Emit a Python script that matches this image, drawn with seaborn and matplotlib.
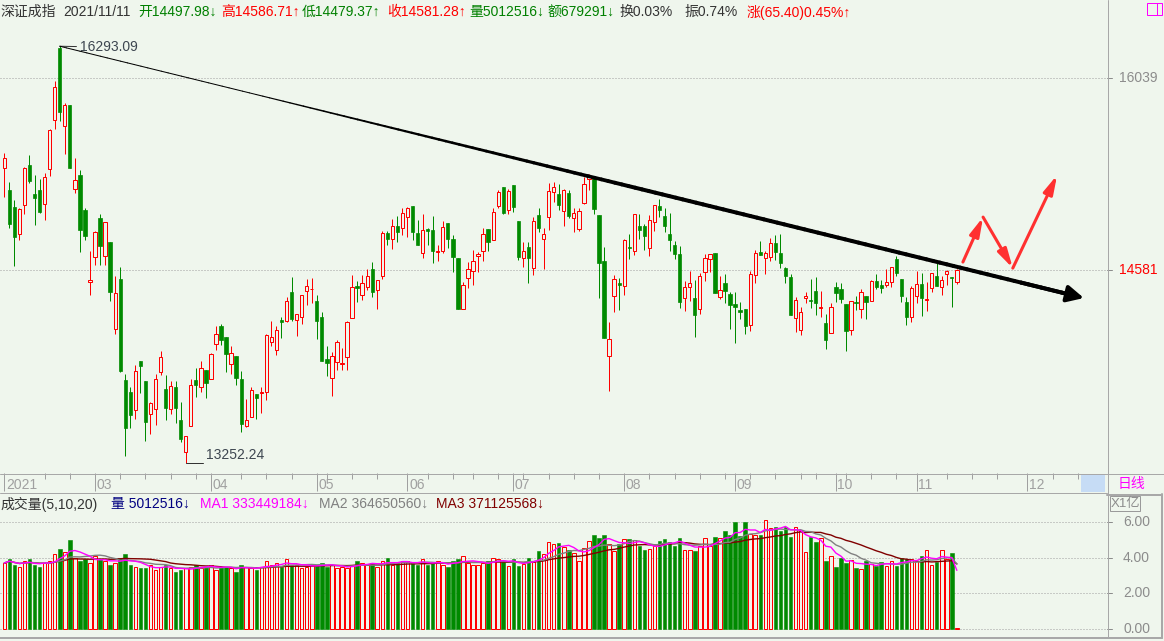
import numpy as np
import pandas as pd
import matplotlib
matplotlib.use('Agg')
import matplotlib.pyplot as plt
import matplotlib.transforms as mtransforms
from matplotlib.patches import Rectangle
from matplotlib.lines import Line2D
from matplotlib.collections import LineCollection
import seaborn as sns

sns.set_theme(style='white')
plt.rcParams['font.family'] = ['Liberation Sans', 'Noto Sans CJK SC', 'DejaVu Sans']

# ---------------- data ----------------
opens = [15335, 15171, 15041, 14846, 15061, 15358, 15141, 15171, 15068, 15332,
         15709, 16278, 15663, 15825, 15179, 15285, 15021, 14492, 14677, 14962,
         14684, 14785, 14162, 14516, 13807, 13727, 13605, 13937, 13800, 13578,
         13612, 13859, 13746, 13612, 13761, 13536, 13325, 13498, 13807, 13757,
         13873, 13816, 14053, 14184, 14104, 13914, 13972, 13814, 13498, 13558,
         13712, 13721, 13723, 14071, 14016, 14224, 14217, 14423, 14222, 14247,
         14428, 14442, 14359, 14245, 13951, 13823, 13928, 13914, 13967, 14240,
         14466, 14404, 14461, 14588, 14439, 14540, 14851, 14805, 14903, 14886,
         14971, 15051, 14849, 14706, 14878, 14873, 14709, 14721, 14925, 14807,
         14665, 14300, 14521, 14572, 14684, 14721, 14878, 14802, 15053, 15191,
         15023, 15209, 14940, 14670, 14746, 14598, 14984, 14809, 14971, 15158,
         15141, 15016, 15149, 14964, 14878, 15076, 15257, 15260, 14984, 14646,
         13974, 14397, 14487, 14468, 14748, 14721, 14903, 14903, 14743, 14930,
         15051, 14977, 14844, 14763, 14697, 14378, 14461, 14380, 14304, 14564,
         14662, 14704, 14389, 14487, 14409, 14338, 14295, 14302, 14191, 14547,
         14711, 14670, 14677, 14778, 14704, 14593, 14528, 14236, 14151, 14382,
         14366, 14430, 14311, 14203, 14130, 14457, 14444, 14338, 14151, 14354,
         14300, 14392, 14361, 14502, 14473, 14475, 14497, 14658, 14516, 14352,
         14247, 14397, 14480, 14368, 14449, 14538, 14456, 14552, 14528, 14497.98]
highs = [15450, 15230, 15096, 15034, 15347, 15435, 15285, 15255, 15297, 15640,
         16014, 16293.09, 15838, 15825, 15414, 15322, 15034, 14721, 14866, 14991,
         14934, 14785, 14538, 14600, 13846, 13761, 13910, 13937, 13800, 13657,
         13850, 14007, 13841, 13800, 13800, 13659, 13429, 13814, 13891, 13935,
         13875, 13995, 14181, 14196, 14104, 14042, 13974, 13868, 13678, 13757,
         13712, 13761, 14125, 14217, 14181, 14245, 14387, 14531, 14269, 14402,
         14516, 14523, 14402, 14283, 14042, 14002, 14083, 14030, 14215, 14545,
         14502, 14545, 14588, 14639, 14509, 14868, 14866, 14954, 14977, 15034,
         15046, 15051, 14947, 14991, 14886, 14977, 14763, 14940, 14925, 14837,
         14665, 14495, 14636, 14726, 14709, 14886, 14878, 15034, 15171, 15191,
         15176, 15209, 14940, 14783, 14783, 14967, 15034, 14886, 15222, 15230,
         15216, 15176, 15171, 15034, 15034, 15268, 15292, 15260, 14984, 14746,
         14208, 14545, 14526, 14805, 14842, 14991, 14991, 14917, 14984, 15058,
         15103, 15034, 15001, 14793, 14756, 14502, 14574, 14509, 14562, 14697,
         14697, 14704, 14538, 14552, 14423, 14423, 14352, 14304, 14574, 14726,
         14795, 14719, 14812, 14837, 14844, 14605, 14552, 14385, 14316, 14423,
         14516, 14528, 14430, 14264, 14343, 14497, 14487, 14338, 14361, 14397,
         14444, 14396, 14509, 14552, 14511, 14586, 14605, 14682, 14516, 14389,
         14463, 14576, 14562, 14497, 14562, 14629, 14540, 14581, 14533, 14586.71]
lows = [15116, 14890, 14612, 14800, 14989, 15226, 14910, 14997, 14947, 15277,
        15640, 15699, 15447, 15340, 15151, 14714, 14800, 14402, 14617, 14617,
        14617, 14359, 14125, 13863, 13296, 13484, 13543, 13721, 13395, 13442,
        13503, 13841, 13536, 13576, 13514, 13387, 13252.24, 13498, 13693, 13727,
        13687, 13816, 14016, 14049, 13861, 13850, 13775, 13458, 13491, 13554,
        13545, 13585, 13671, 14044, 13981, 14099, 14212, 14217, 14113, 14198,
        14333, 14347, 14090, 13937, 13834, 13700, 13875, 13875, 13875, 14240,
        14352, 14366, 14437, 14387, 14302, 14516, 14763, 14731, 14785, 14837,
        14824, 14800, 14763, 14670, 14763, 14634, 14648, 14706, 14741, 14569,
        14300, 14300, 14454, 14475, 14569, 14648, 14721, 14802, 15038, 14994,
        14989, 15008, 14653, 14605, 14490, 14547, 14861, 14590, 14875, 15081,
        15023, 14905, 14964, 14861, 14868, 15066, 15171, 14991, 14382, 14099,
        13734, 14283, 14295, 14402, 14662, 14690, 14807, 14726, 14685, 14868,
        14971, 14861, 14721, 14662, 14311, 14290, 14361, 14106, 14269, 14504,
        14567, 14418, 14375, 14347, 14162, 14064, 14233, 14127, 14148, 14490,
        14690, 14554, 14648, 14653, 14598, 14485, 14259, 14141, 14120, 14347,
        14311, 14259, 14247, 14023, 14130, 14354, 14343, 14009, 14120, 14295,
        14240, 14229, 14361, 14442, 14418, 14461, 14461, 14538, 14354, 14189,
        14208, 14347, 14252, 14290, 14425, 14466, 14402, 14473, 14314, 14479.37]
closes = [15412, 14920, 14824, 15026, 15337, 15242, 15111, 15006, 15270, 15630,
          15967, 15772, 15822, 15340, 15245, 14873, 14831, 14509, 14856, 14758,
          14930, 14425, 14414, 13868, 13484, 13570, 13868, 13903, 13525, 13651,
          13814, 13965, 13615, 13764, 13615, 13411, 13429, 13773, 13773, 13887,
          13785, 13986, 14125, 14085, 13988, 13993, 13823, 13507, 13536, 13739,
          13685, 13727, 14118, 14104, 14151, 14212, 14357, 14233, 14267, 14399,
          14466, 14444, 14219, 13937, 13925, 13972, 14069, 13925, 14210, 14459,
          14454, 14487, 14538, 14423, 14509, 14851, 14805, 14903, 14861, 14997,
          15036, 14861, 14763, 14873, 14866, 14721, 14719, 14895, 14810, 14677,
          14304, 14471, 14586, 14644, 14697, 14844, 14787, 15006, 15154, 15001,
          15161, 15046, 14677, 14719, 14670, 14937, 14890, 14844, 15161, 15194,
          15061, 15169, 14979, 14997, 15011, 15214, 15272, 15028, 14634, 14099,
          14088, 14516, 14473, 14798, 14743, 14989, 14873, 14829, 14947, 15056,
          15021, 14905, 14802, 14699, 14354, 14457, 14487, 14262, 14538, 14665,
          14695, 14418, 14437, 14432, 14333, 14319, 14283, 14184, 14552, 14704,
          14690, 14704, 14775, 14711, 14634, 14540, 14259, 14366, 14279, 14392,
          14361, 14347, 14316, 14085, 14314, 14416, 14375, 14144, 14357, 14345,
          14421, 14354, 14502, 14461, 14454, 14495, 14600, 14562, 14397, 14247,
          14454, 14480, 14383, 14373, 14557, 14468, 14509, 14576, 14523, 14581.28]
# volume in 1e8 shares (X1亿)
volumes = [3.7, 3.9, 3.6, 3.5, 3.8, 3.9, 3.6, 3.5, 3.7, 3.8,
           4.2, 4.5, 4.3, 5.0, 4.0, 3.8, 3.9, 3.7, 4.1, 3.9,
           3.8, 3.6, 3.7, 4.0, 4.2, 3.6, 3.5, 3.4, 3.4, 3.6,
           3.3, 3.5, 3.6, 3.4, 3.2, 3.3, 3.4, 3.5, 3.6, 3.4,
           3.5, 3.6, 3.3, 3.5, 3.5, 3.4, 3.2, 3.6, 3.5, 3.4,
           3.3, 3.5, 3.8, 3.6, 3.7, 3.5, 3.9, 3.6, 3.6, 3.4,
           3.5, 3.6, 3.6, 3.7, 3.5, 3.6, 3.4, 3.5, 3.4, 3.6,
           3.8, 3.7, 3.6, 3.7, 3.5, 3.8, 4.0, 3.6, 3.7, 3.8,
           3.8, 3.7, 3.6, 3.9, 3.6, 3.7, 3.8, 3.6, 3.5, 3.8,
           3.9, 4.1, 3.7, 3.6, 3.6, 3.7, 3.8, 4.0, 3.9, 3.76,
           3.53, 3.91, 3.53, 3.65, 3.96, 3.78, 4.37, 4.21, 4.88, 4.75,
           4.82, 4.58, 4.43, 4.26, 3.81, 4.52, 4.94, 5.27, 5.12, 5.27,
           4.75, 4.37, 4.75, 5.05, 5.05, 4.99, 4.67, 4.43, 4.48, 4.65,
           4.94, 5.05, 4.88, 4.65, 5.10, 4.43, 4.43, 4.37, 4.65, 5.08,
           4.65, 5.18, 5.08, 5.50, 5.27, 5.98, 5.22, 5.98, 5.31, 5.27,
           5.27, 6.11, 5.68, 5.72, 5.50, 5.74, 5.16, 5.72, 5.50, 4.32,
           5.14, 4.86, 5.08, 3.81, 4.08, 3.46, 4.00, 3.68, 3.89, 3.40,
           3.37, 3.83, 3.63, 3.53, 3.76, 3.55, 3.81, 3.55, 3.96, 3.93,
           3.93, 3.81, 4.08, 4.43, 3.59, 3.78, 4.43, 3.93, 4.25, 0.05]

month_ticks = [0, 18, 41, 62, 80, 101, 123, 145, 165, 181, 203]
month_labels = ['2021', '03', '04', '05', '06', '07', '08', '09', '10', '11', '12']
week_ticks = [8, 13, 23, 28, 33, 38, 47, 52, 57, 64, 69, 74, 84, 89, 93, 98,
              103, 108, 113, 118, 128, 133, 138, 143, 148, 153, 158, 161, 167,
              172, 177, 187, 192, 197, 208, 213]
price_marks = [16039, 14581]
price_mark_labels = ['16039', '14581']
vol_marks = [0, 2, 4, 6]
vol_mark_labels = ['0.00', '2.00', '4.00', '6.00']
peak_label, trough_label = '16293.09', '13252.24'
trend_start = (11, 16293.09)
trend_end = (214.2, 14380)
red_path = [(190.2, 14639), (194.2, 14969), (200.1, 14595), (208.9, 15285)]

header = [('深证成指', 'dk'), ('2021/11/11', 'dk'), ('开14497.98↓', 'g'),
          ('高14586.71↑', 'r'), ('低14479.37↑', 'g'), ('收14581.28↑', 'r'),
          ('量5012516↓', 'g'), ('额679291↓', 'g'), ('换0.03%', 'dk'),
          ('振0.74%', 'dk'), ('涨(65.40)0.45%↑', 'r')]
vol_header = [('成交量(5,10,20)', 'dk'), ('量 5012516↓', 'navy'),
              ('MA1 333449184↓', 'mag'), ('MA2 364650560↓', 'gray'),
              ('MA3 371125568↓', 'maroon')]

# ---------------- style / layout ----------------
BG = '#eff6ed'
RED = '#ff0000'
GREEN = '#008a00'
GRID = '#a0a0a0'
BORDER = '#a8a8a8'
COLS = {'dk': '#333333', 'g': '#008000', 'r': '#ff0000', 'navy': '#000080',
        'mag': '#ff00ff', 'gray': '#808080', 'maroon': '#800000'}
header_x = [0, 63, 138, 221, 302, 387, 469, 547, 619, 684, 747]
vol_header_x = [0, 111, 200, 319, 436]

W, H = 1164, 641
X0_PX, STEP_PX = 4.3, 5.04
PX = 0.72  # points per pixel at dpi 100

fig = plt.figure(figsize=(W / 100, H / 100), dpi=100, facecolor=BG)


def axes_px(x0, y0, x1, y1):
    a = fig.add_axes([x0 / W, 1 - y1 / H, (x1 - x0) / W, (y1 - y0) / H])
    a.set_facecolor('none')
    a.set_axis_off()
    return a


def px2i(px):
    return (px - X0_PX) / STEP_PX


XLIM = (px2i(0), px2i(1107))

df = pd.DataFrame({'open': opens, 'high': highs, 'low': lows, 'close': closes, 'vol': volumes})
df['i'] = np.arange(len(df))
df['up'] = df['close'] >= df['open']
df['ma5'] = df['vol'].rolling(5, min_periods=1).mean()
df['ma10'] = df['vol'].rolling(10, min_periods=1).mean()
df['ma20'] = df['vol'].rolling(20, min_periods=1).mean()
up = df[df['up']]
dn = df[~df['up']]

# ---------------- main price panel ----------------
ax = axes_px(0, 0, 1107, 473)
ax.set_yscale('log')
ax.set_xlim(*XLIM)
ax.set_ylim(13184.6, 16671)
for p in price_marks:
    ax.axhline(p, color=GRID, lw=PX, ls=(0, (1, 2)), zorder=1)

BW = 0.66
ax.vlines(dn['i'], dn['low'], dn['high'], color=GREEN, lw=PX, zorder=2)
ax.bar(dn['i'], dn['open'] - dn['close'], bottom=dn['close'], width=BW,
       color=GREEN, edgecolor=GREEN, lw=0.5, zorder=3)
ax.vlines(up['i'], up['close'], up['high'], color=RED, lw=PX, zorder=2)
ax.vlines(up['i'], up['low'], up['open'], color=RED, lw=PX, zorder=2)
ax.bar(up['i'], (up['close'] - up['open']).clip(lower=1), bottom=up['open'], width=BW,
       facecolor=BG, edgecolor=RED, lw=PX, zorder=3)

ax.annotate(peak_label, xy=trend_start, xytext=(20, -1), textcoords='offset pixels',
            ha='left', va='center', fontsize=10, color='#3d4650',
            arrowprops=dict(arrowstyle='-', color='#333333', lw=PX, shrinkA=0, shrinkB=0))
lo_i = int(np.argmin(lows))
ax.plot([lo_i, lo_i + 17 / STEP_PX], [lows[lo_i], lows[lo_i]], color='#333333', lw=PX, zorder=4)
ax.annotate(trough_label, xy=(lo_i, lows[lo_i]), xytext=(20, 1), textcoords='offset pixels',
            ha='left', va='bottom', fontsize=10, color='#3d4650')

# tapered black trend line with arrow
t = np.linspace(0, 0.985, 150)
tx = trend_start[0] + (trend_end[0] - trend_start[0]) * t
ty = np.exp(np.log(trend_start[1]) + (np.log(trend_end[1]) - np.log(trend_start[1])) * t)
tpx = X0_PX + STEP_PX * tx
wpx = 1.0 + 3.0 * np.clip((tpx - 250) / 380, 0, 1)
segs = [[(tx[k], ty[k]), (tx[k + 1], ty[k + 1])] for k in range(len(t) - 1)]
ax.add_collection(LineCollection(segs, linewidths=wpx[:-1] * PX, colors='black',
                                 capstyle='round', zorder=5))
ax.annotate('', xy=trend_end, xytext=(tx[-8], ty[-8]),
            arrowprops=dict(arrowstyle='-|>,head_length=0.5,head_width=0.25',
                            color='black', lw=2.8, mutation_scale=20,
                            shrinkA=0, shrinkB=0), zorder=6)

# red forecast arrows
for (xa, ya), (xb, yb) in zip(red_path[:-1], red_path[1:]):
    ax.annotate('', xy=(xb, yb), xytext=(xa, ya),
                arrowprops=dict(arrowstyle='-|>,head_length=0.7,head_width=0.18',
                                color='#ff3030', lw=2.2, mutation_scale=16,
                                shrinkA=0, shrinkB=0), zorder=6)

trans_p = mtransforms.blended_transform_factory(fig.transFigure, ax.transData)
for p, lab in zip(price_marks, price_mark_labels):
    fig.text(1119 / W, p, lab, transform=trans_p, ha='left', va='center', fontsize=10,
             color=(RED if lab == price_mark_labels[-1] else '#8c8c8c'))
    fig.add_artist(Line2D([1107 / W, 1112 / W], [p, p], transform=trans_p, color='#8c8c8c', lw=PX))

# ---------------- date strip ----------------
axd = axes_px(0, 473, 1107, 493)
axd.set_xlim(*XLIM)
axd.set_ylim(0, 1)
axd.vlines(month_ticks, 0.1, 1.0, color='#a0a0a0', lw=PX)
axd.vlines(week_ticks, 0.68, 1.0, color='#a0a0a0', lw=PX)
for tk, lab in zip(month_ticks, month_labels):
    axd.text(tk + 0.3, 0.42, lab, ha='left', va='center', fontsize=10, color='#a0a0a0')
fig.patches.append(Rectangle((1081 / W, 1 - 492 / H), 24 / W, 18 / H, transform=fig.transFigure,
                             facecolor='#c6dcf5', edgecolor='none'))
fig.text(1118 / W, 1 - 484 / H, '日线', ha='left', va='center', fontsize=10, color='#ff00ff')

# ---------------- volume panel ----------------
axv = axes_px(0, 494, 1107, 638)
axv.set_xlim(*XLIM)
axv.set_ylim(-0.505, 7.57)
for v in vol_marks:
    axv.axhline(v, color=GRID, lw=PX, ls=(0, (1, 2)), zorder=1)
VW = 0.7
axv.bar(dn['i'], dn['vol'], width=VW, color=GREEN, edgecolor=GREEN, lw=0.4, zorder=2)
axv.bar(up['i'], up['vol'], width=VW, facecolor=BG, edgecolor=RED, lw=PX, zorder=2)
sns.lineplot(data=df, x='i', y='ma20', ax=axv, color='#800000', lw=1.0, legend=False, zorder=4)
sns.lineplot(data=df, x='i', y='ma10', ax=axv, color='#808080', lw=1.0, legend=False, zorder=4)
sns.lineplot(data=df, x='i', y='ma5', ax=axv, color='#ff00ff', lw=1.0, legend=False, zorder=5)
axv.set_axis_off()
trans_v = mtransforms.blended_transform_factory(fig.transFigure, axv.transData)
for v, lab in zip(vol_marks, vol_mark_labels):
    fig.text(1123 / W, v, lab, transform=trans_v, ha='left', va='center', fontsize=10, color='#8c8c8c')
    fig.add_artist(Line2D([1107 / W, 1112 / W], [v, v], transform=trans_v, color='#8c8c8c', lw=PX))

# ---------------- header texts ----------------
for (txt, c), x in zip(header, header_x):
    fig.text(x / W, 1 - 12 / H, txt, ha='left', va='center', fontsize=10, color=COLS[c])
for (txt, c), x in zip(vol_header, vol_header_x):
    fig.text(x / W, 1 - 504 / H, txt, ha='left', va='center', fontsize=10, color=COLS[c])

# ---------------- frame lines ----------------
def hline(y, x0, x1, c=BORDER, lw=1.0):
    fig.add_artist(Line2D([x0 / W, x1 / W], [1 - y / H, 1 - y / H], transform=fig.transFigure, color=c, lw=lw * PX))


def vline(x, y0, y1, c=BORDER, lw=1.0):
    fig.add_artist(Line2D([x / W, x / W], [1 - y0 / H, 1 - y1 / H], transform=fig.transFigure, color=c, lw=lw * PX))


vline(1107.5, 0, 638)
hline(473.5, 0, 1164)
hline(492.5, 0, 1107)
hline(494.5, 1107, 1162, lw=2)
vline(1162, 494, 638, lw=2)
hline(638, 0, 1162, lw=2)
fig.patches.append(Rectangle((1110 / W, 1 - 511 / H), 30 / W, 15 / H, transform=fig.transFigure,
                             facecolor='none', edgecolor='#9a9a9a', lw=PX))
fig.text(1111 / W, 1 - 504 / H, 'X1亿', ha='left', va='center', fontsize=9.5, color='#8c8c8c')
fig.patches.append(Rectangle((1147 / W, 1 - 15 / H), 15 / W, 12 / H, transform=fig.transFigure,
                             facecolor='none', edgecolor='#ff00ff', lw=PX))
vline(1157, 3, 15, c='#ff00ff')

fig.savefig('out.png', dpi=100, facecolor=BG)
